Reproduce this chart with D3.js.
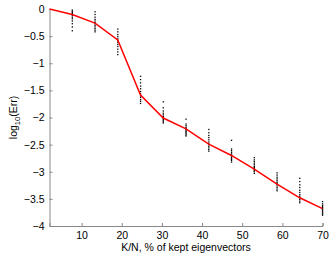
<!DOCTYPE html>
<html>
<head>
<meta charset="utf-8">
<script src="https://cdn.jsdelivr.net/npm/d3@7"></script>
<style>
  body { margin: 0; background: #fff; }
  text { font-family: "Liberation Sans", Arial, sans-serif; }
</style>
</head>
<body>
<div id="chart"></div>
<script>
// K/N values (% of kept eigenvectors)
var kn = [2, 7.67, 13.33, 19, 24.67, 30.33, 36, 41.67, 47.33, 53, 58.67, 64.33, 70];
// mean log10 error (red line)
var meanErr = [0, -0.10, -0.26, -0.57, -1.585, -2.01, -2.21, -2.49, -2.70, -2.95, -3.23, -3.48, -3.68];
// individual trials at each K/N (black dots), from kn[1] onward
var trials = [
  [-0.02,-0.04,-0.06,-0.08,-0.10,-0.12,-0.15,-0.18,-0.22,-0.27,-0.33,-0.40],
  [-0.05,-0.10,-0.15,-0.19,-0.22,-0.25,-0.27,-0.30,-0.33,-0.36,-0.39,-0.42],
  [-0.37,-0.42,-0.47,-0.51,-0.55,-0.58,-0.61,-0.65,-0.69,-0.74,-0.79,-0.84],
  [-1.24,-1.30,-1.36,-1.42,-1.47,-1.52,-1.56,-1.60,-1.63,-1.67,-1.70,-1.74],
  [-1.71,-1.82,-1.88,-1.92,-1.95,-1.98,-2.00,-2.02,-2.04,-2.06,-2.08,-2.10],
  [-2.03,-2.12,-2.15,-2.18,-2.20,-2.22,-2.24,-2.26,-2.28,-2.30,-2.32,-2.34],
  [-2.22,-2.28,-2.33,-2.37,-2.41,-2.45,-2.48,-2.50,-2.53,-2.56,-2.59,-2.62],
  [-2.42,-2.58,-2.61,-2.64,-2.67,-2.69,-2.71,-2.73,-2.75,-2.77,-2.79,-2.82],
  [-2.74,-2.78,-2.81,-2.84,-2.87,-2.90,-2.92,-2.94,-2.96,-2.98,-3.00,-3.03],
  [-3.02,-3.06,-3.10,-3.13,-3.16,-3.19,-3.21,-3.23,-3.26,-3.29,-3.32,-3.35],
  [-3.12,-3.18,-3.24,-3.29,-3.34,-3.38,-3.42,-3.45,-3.48,-3.51,-3.54,-3.57],
  [-3.55,-3.59,-3.62,-3.64,-3.66,-3.68,-3.70,-3.72,-3.74,-3.76,-3.78,-3.80]
];
var xTicks = [10, 20, 30, 40, 50, 60, 70];
var yTicks = [0, -0.5, -1, -1.5, -2, -2.5, -3, -3.5, -4];

var width = 332, height = 257;
var margin = {left: 49.5, top: 9, right: 9.5, bottom: 31};

var svg = d3.select("#chart").append("svg")
  .attr("width", width)
  .attr("height", height);

var x = d3.scaleLinear().domain([2, 70]).range([margin.left, width - margin.right]);
var y = d3.scaleLinear().domain([-4, 0]).range([height - margin.bottom, margin.top]);

var fmt = d => (d < 0 ? "\u2212" : "") + Math.abs(d);

// axes, ticks pointing inward like matlab
var xAxis = svg.append("g")
  .attr("transform", `translate(0,${y(-4)})`)
  .call(d3.axisBottom(x).tickValues(xTicks).tickSize(-3).tickPadding(6).tickFormat(fmt));
var yAxis = svg.append("g")
  .attr("transform", `translate(${x(2)},0)`)
  .call(d3.axisLeft(y).tickValues(yTicks).tickSize(-3).tickPadding(5).tickFormat(fmt));

[xAxis, yAxis].forEach(function(g){
  g.select(".domain").attr("stroke", "#888").attr("stroke-width", 1);
  g.selectAll(".tick line").attr("stroke", "#888");
  g.selectAll(".tick text").attr("fill", "#000").attr("font-size", 10.5)
    .attr("font-family", "Liberation Sans, Arial, sans-serif");
});

// trial dots
var dots = [];
trials.forEach(function(col, i){
  col.forEach(function(v){ dots.push({k: kn[i + 1], v: v}); });
});
svg.append("g")
  .selectAll("rect")
  .data(dots)
  .enter().append("rect")
  .attr("x", d => x(d.k) - 0.6)
  .attr("y", d => y(d.v) - 0.6)
  .attr("width", 1.3)
  .attr("height", 1.3)
  .attr("fill", "#000");

// mean line
var line = d3.line()
  .x((d, i) => x(kn[i]))
  .y(d => y(d));
svg.append("path")
  .datum(meanErr)
  .attr("d", line)
  .attr("fill", "none")
  .attr("stroke", "#ff0000")
  .attr("stroke-width", 1.5);

// labels
svg.append("text")
  .attr("x", (x(2) + x(70)) / 2)
  .attr("y", 251)
  .attr("text-anchor", "middle")
  .attr("font-size", 10.5)
  .text("K/N, % of kept eigenvectors");

var yl = svg.append("text")
  .attr("transform", `translate(17,${(y(0) + y(-4)) / 2}) rotate(-90)`)
  .attr("text-anchor", "middle")
  .attr("font-size", 10.5);
yl.append("tspan").text("log");
yl.append("tspan").attr("font-size", 7.5).attr("dy", 3).text("10");
yl.append("tspan").attr("dy", -3).text("(Err)");
</script>
</body>
</html>
